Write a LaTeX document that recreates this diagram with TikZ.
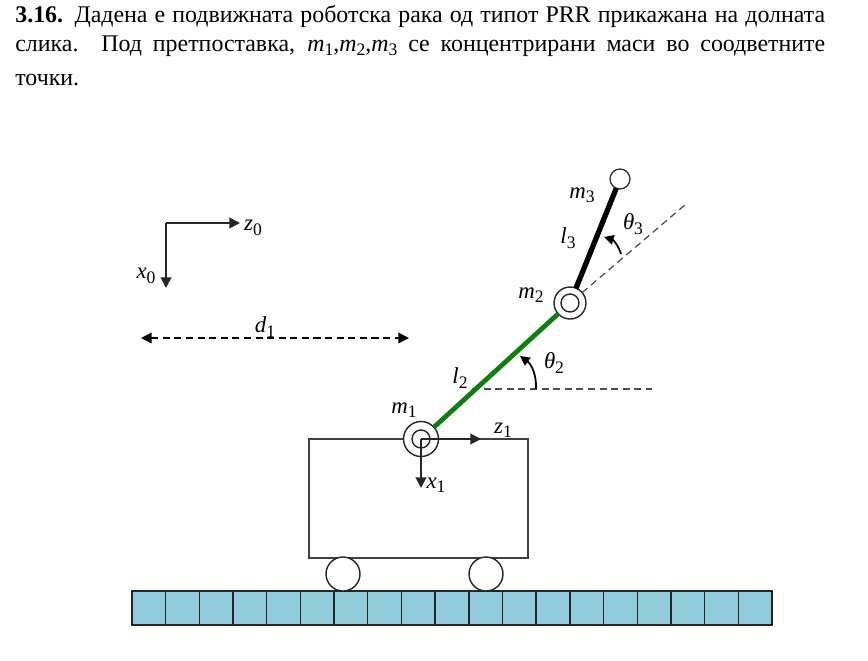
\documentclass[tikz,border=0pt]{standalone}
\usepackage{xcolor}
\usepackage{fontspec}
\setmainfont{Liberation Serif}
\usetikzlibrary{arrows.meta,positioning}
\definecolor{railblue}{HTML}{92CDDC}
\definecolor{linkgreen}{HTML}{0B800B}
\newcommand{\varlabel}[2]{\textit{#1}\raisebox{-0.42ex}{\fontsize{10}{11}\selectfont #2}}

\begin{document}
\begin{tikzpicture}[
  x=0.02cm, y=-0.02cm,
  every node/.style={font=\fontsize{13}{15}\selectfont, inner sep=0pt},
  textline/.style={anchor=base west, font=\fontsize{13.6}{16}\selectfont},
  cart/.style={draw=black!75, line width=0.9pt, minimum width=4.38cm, minimum height=2.38cm, outer sep=0pt},
  wheel/.style={draw=black!85, line width=0.8pt, fill=white, circle, minimum size=0.68cm, outer sep=0pt},
  cell/.style={draw=black!85, line width=0.8pt, fill=railblue, minimum width=0.6737cm, minimum height=0.68cm, outer sep=0pt},
  joint/.style={draw=black!85, line width=0.8pt, fill=white, circle, outer sep=0pt},
  axis/.style={-{Triangle[length=6pt,width=6pt]}, line width=1.1pt, black!85},
  guide/.style={dash pattern=on 4pt off 2.6pt, line width=0.7pt, black!70},
  sweep/.style={-{Triangle[length=5.5pt,width=5.5pt]}, line width=1pt, black}
]
\useasboundingbox (0,0) rectangle (868,660);

\node[textline] (line1) at (15,22) {\makebox[16.2cm][s]{\textbf{3.16.} Дадена е подвижната роботска рака од типот PRR прикажана на долната}};
\node[textline] (line2) at (15,51) {\makebox[16.2cm][s]{слика. Под претпоставка, \varlabel{m}{1},\varlabel{m}{2},\varlabel{m}{3} се концентрирани маси во соодветните}};
\node[textline] (line3) at (15,85) {точки.};

% rail and cart
\foreach \i in {0,...,18}
  \node[cell] (cell\i) at (148.84+33.68*\i,608) {};
\node[cart] (body) at (418.5,498.5) {};
\node[wheel] (wheelL) at (343,574) {};
\node[wheel] (wheelR) at (486,574) {};

% fixed frame
\coordinate (origin0) at (166,223);
\coordinate (tipz0) at (240,223);
\coordinate (tipx0) at (166,288);
\draw[axis] (origin0) -- (tipz0);
\draw[axis] (origin0) -- (tipx0);
\node (labelz0) at (253,228) {\varlabel{z}{0}};
\node (labelx0) at (146,276) {\varlabel{x}{0}};

\coordinate (leftd1) at (141,338);
\coordinate (rightd1) at (409,338);
\draw[guide, black, line width=0.9pt, {Triangle[length=6pt,width=6pt]}-{Triangle[length=6pt,width=6pt]}] (leftd1) -- (rightd1);
\node (labeld1) at (265,327) {\varlabel{d}{1}};

% guides under the links
\coordinate (start2) at (472,389);
\coordinate (end2) at (652,389);
\coordinate (end3) at (686,204);
\draw[guide] (start2) -- (end2);

% arm
\node[joint, minimum size=0.70cm] (joint1) at (421,439) {};
\node[joint, minimum size=0.64cm] (joint2) at (570,303) {};
\node[joint, minimum size=0.40cm, line width=0.7pt] (mass3) at (620,179) {};
\draw[guide] (joint2) -- (end3);
\draw[linkgreen, line width=2.7pt] (joint1) -- (joint2);
\draw[black, line width=3pt] (joint2) -- (mass3);
\node[joint, minimum size=0.36cm] (inner1) at (joint1.center) {};
\node[joint, minimum size=0.36cm] (inner2) at (joint2.center) {};

% moving frame
\coordinate (tipz1) at (481,439);
\coordinate (tipx1) at (421,488);
\draw[axis] (inner1.center) -- (tipz1);
\draw[axis] (inner1.center) -- (tipx1);

% angles
\coordinate (from2) at (536,389);
\coordinate (to2) at (520,356);
\coordinate (from3) at (621,254);
\coordinate (to3) at (604,237);
\draw[sweep] (from2) to[bend right=28] (to2);
\draw[sweep] (from3) to[bend right=28] (to3);

\node (labelm1) at (404,410) {\varlabel{m}{1}};
\node (labelm2) at (531,295) {\varlabel{m}{2}};
\node (labelm3) at (582,195) {\varlabel{m}{3}};
\node (labell2) at (460,378) {\varlabel{l}{2}};
\node (labell3) at (568,238) {\varlabel{l}{3}};
\node (labelz1) at (503,430) {\varlabel{z}{1}};
\node (labelx1) at (436,485) {\varlabel{x}{1}};
\node (labelt2) at (554,363) {\varlabel{θ}{2}};
\node (labelt3) at (633,224) {\varlabel{θ}{3}};
\end{tikzpicture}
\end{document}
